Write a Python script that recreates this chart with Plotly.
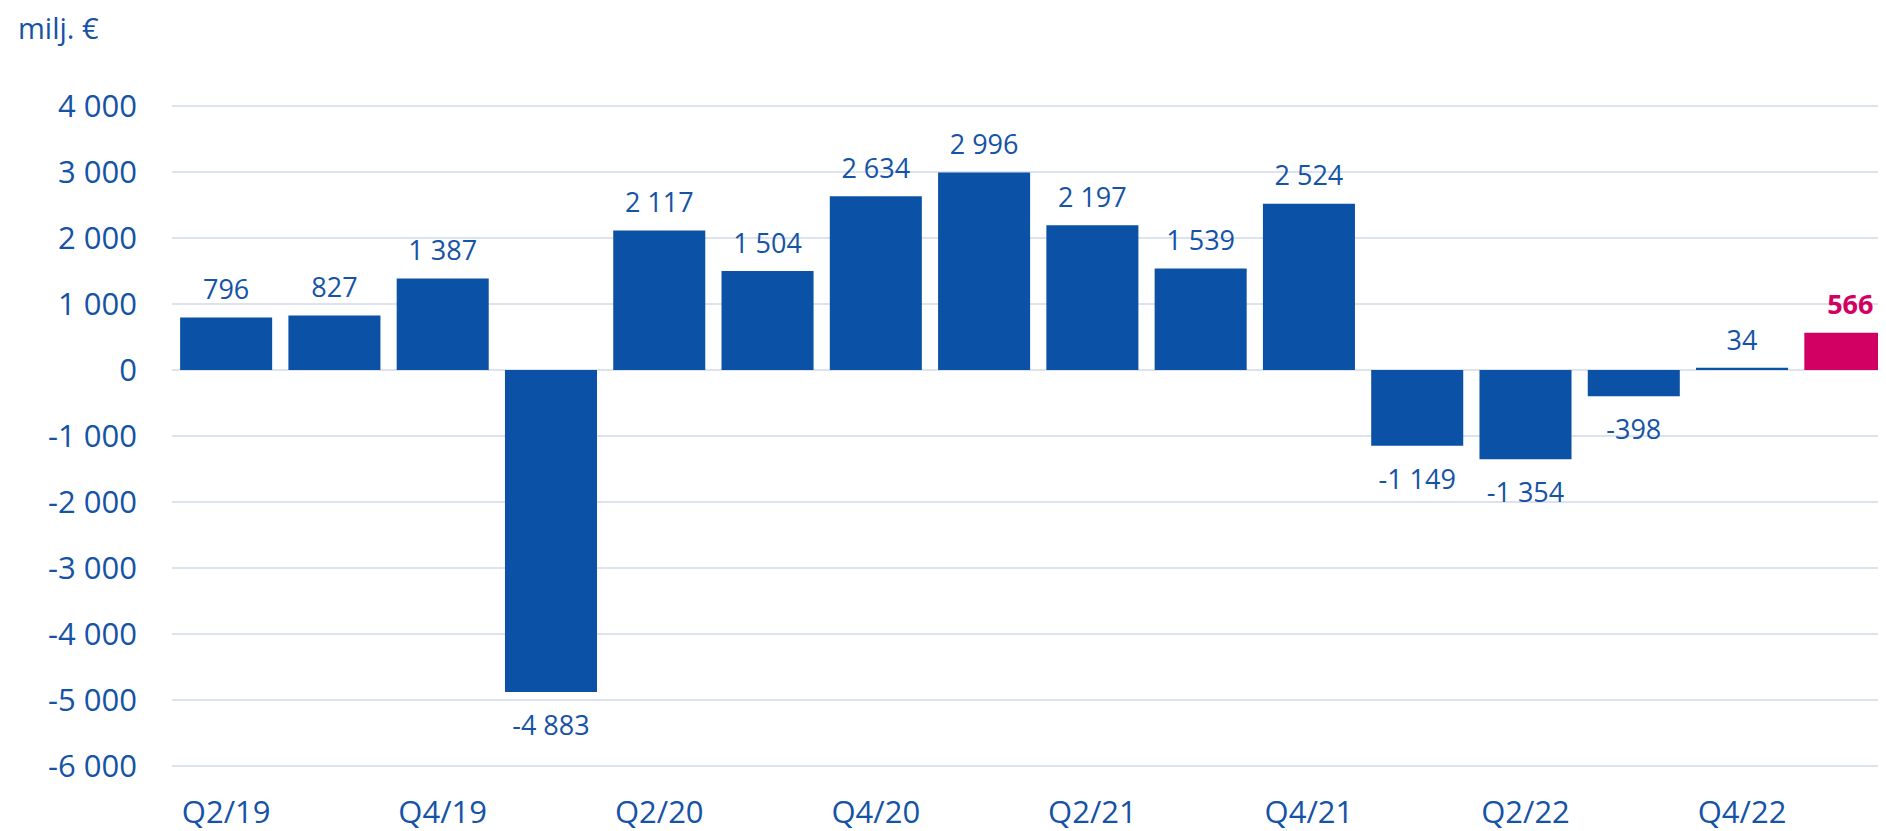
import plotly.graph_objects as go

categories = ["Q2/19", "Q3/19", "Q4/19", "Q1/20", "Q2/20", "Q3/20", "Q4/20", "Q1/21",
              "Q2/21", "Q3/21", "Q4/21", "Q1/22", "Q2/22", "Q3/22", "Q4/22", "Q1/23"]
values = [796, 827, 1387, -4883, 2117, 1504, 2634, 2996, 2197, 1539, 2524,
          -1149, -1354, -398, 34, 566]
highlight = [False] * 15 + [True]
x_tick_labels = categories[::2]
y_tick_values = [4000, 3000, 2000, 1000, 0, -1000, -2000, -3000, -4000, -5000, -6000]

BLUE = "#0b51a5"
PINK = "#d10062"
TEXT_BLUE = "#1553a6"
GRID = "#dde3ee"
FONT = "Open Sans"
LABEL_SIZE = 27
TICK_SIZE = 31
X_TICK_SIZE = 31

# page body has an 8px margin; the figure is sized so the visible window matches
OFF = 8
W, H = 1900, 831 - OFF
L, R, T = 172 - OFF, 0, 103 - OFF
PLOT_H = 665.6
B = H - T - PLOT_H
PX_PER_CAT = 108.28
X_RANGE = [-0.5, -0.5 + (W - L - R) / PX_PER_CAT]


def fmt(v):
    s = f"{abs(v):,}".replace(",", " ")
    return ("-" if v < 0 else "") + s


bar_colors = [PINK if h else BLUE for h in highlight]
text_colors = [PINK if h else TEXT_BLUE for h in highlight]
texts = [f"<b>{fmt(v)}</b>" if h else fmt(v) for v, h in zip(values, highlight)]


def marker_size_for_gap(gap_px):
    # plotly offsets scatter text by r = mrc/0.8 + 1 where mrc = size/2
    return 2 * 0.8 * (gap_px - 1)


text_pos = ["top center" if v >= 0 else "bottom center" for v in values]
offset_sizes = [marker_size_for_gap(28 - 0.61 * LABEL_SIZE) if v >= 0
                else marker_size_for_gap(33 - 0.39 * LABEL_SIZE) for v in values]

fig = go.Figure()
fig.add_trace(go.Bar(
    x=categories,
    y=values,
    marker=dict(color=bar_colors, line=dict(width=0)),
    hoverinfo="skip",
))
fig.add_trace(go.Scatter(
    x=categories,
    y=values,
    mode="markers+text",
    marker=dict(size=offset_sizes, opacity=0, color="white"),
    text=texts,
    textposition=text_pos,
    textfont=dict(family=FONT, size=LABEL_SIZE, color=text_colors),
    cliponaxis=False,
    hoverinfo="skip",
))

fig.update_layout(
    width=W, height=H,
    margin=dict(l=L, r=R, t=T, b=B, pad=0),
    paper_bgcolor="white",
    plot_bgcolor="white",
    bargap=0.15,
    showlegend=False,
    font=dict(family=FONT, color=TEXT_BLUE),
)

fig.update_xaxes(
    range=X_RANGE,
    tickmode="array",
    tickvals=x_tick_labels,
    ticktext=x_tick_labels,
    tickfont=dict(family=FONT, size=X_TICK_SIZE, color=TEXT_BLUE),
    showgrid=False,
    showline=False,
    zeroline=False,
    ticks="",
    ticklabelstandoff=22,
)

fig.update_yaxes(
    range=[-6050, 4050],
    tickmode="array",
    tickvals=y_tick_values,
    ticktext=[fmt(v) for v in y_tick_values],
    tickfont=dict(family=FONT, size=TICK_SIZE, color=TEXT_BLUE),
    showgrid=True,
    gridcolor=GRID,
    gridwidth=2,
    zeroline=True,
    zerolinecolor=GRID,
    zerolinewidth=2,
    showline=False,
    ticks="",
    ticklabelstandoff=34,
)

fig.add_annotation(
    text="milj. €",
    xref="paper", yref="paper",
    x=(17 - OFF - L) / (W - L - R), y=(H - B - (28 - OFF)) / PLOT_H,
    xanchor="left", yanchor="middle",
    showarrow=False,
    borderpad=0,
    font=dict(family=FONT, size=29, color=TEXT_BLUE),
)

fig.write_html("out.html")
